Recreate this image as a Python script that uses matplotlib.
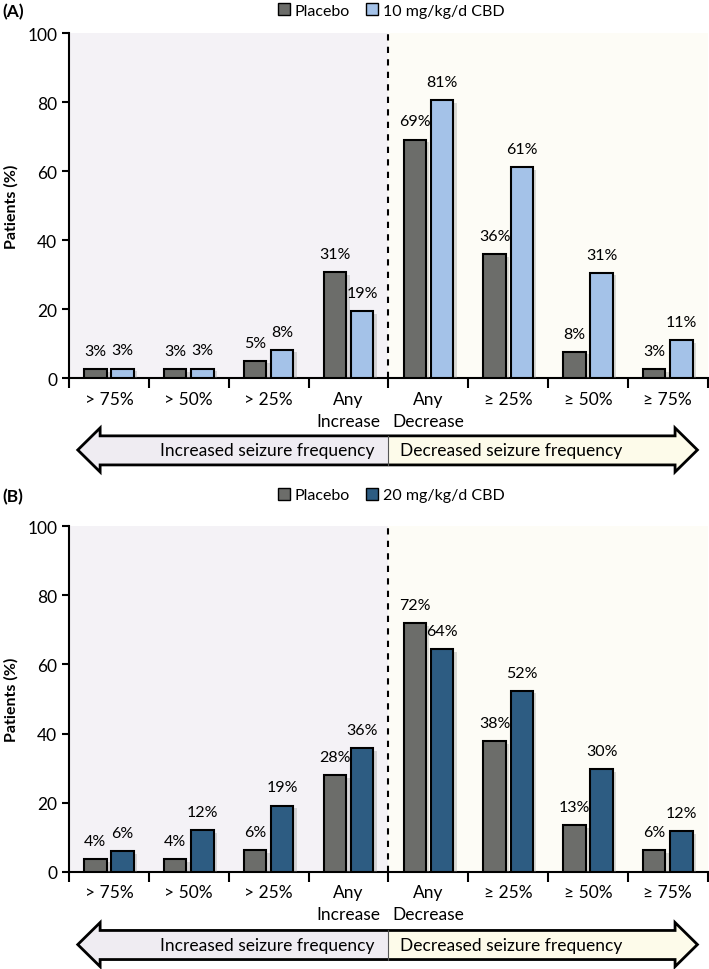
import matplotlib
matplotlib.use('Agg')
import matplotlib.pyplot as plt
import matplotlib.patheffects as pe
from matplotlib.patches import Patch, Polygon
import numpy as np

plt.rcParams['font.family'] = ['Lato', 'DejaVu Sans']

categories = ['> 75%', '> 50%', '> 25%', 'Any\nIncrease',
              'Any\nDecrease', '≥ 25%', '≥ 50%', '≥ 75%']

# panel A
placebo_a = [2.6, 2.6, 5.1, 30.8, 69.2, 35.9, 7.7, 2.6]
cbd10 = [2.8, 2.8, 8.3, 19.4, 80.6, 61.1, 30.6, 11.1]
placebo_a_labels = [3, 3, 5, 31, 69, 36, 8, 3]
cbd10_labels = [3, 3, 8, 19, 81, 61, 31, 11]

# panel B
placebo_b = [3.7, 3.7, 6.3, 28.1, 72.0, 37.9, 13.5, 6.3]
cbd20 = [6.0, 12.0, 19.2, 35.8, 64.4, 52.4, 29.8, 11.9]
placebo_b_labels = [4, 4, 6, 28, 72, 38, 13, 6]
cbd20_labels = [6, 12, 19, 36, 64, 52, 30, 12]

placebo_color = '#6c6d6a'
light_blue = '#a4c2e8'
dark_blue = '#2d5c82'

shadow = [pe.SimplePatchShadow(offset=(2.5, -2), shadow_rgbFace='#888888', alpha=0.3), pe.Normal()]


def draw_arrow(ax):
    ax.set_xlim(-0.5, 7.5)
    ax.set_ylim(0, 1)
    ax.axis('off')
    tip_l, base_l, base_r, tip_r = -0.39, -0.11, 7.09, 7.37
    top, bot = 0.82, 0.16
    left = [(tip_l, 0.5), (base_l, 1.0), (base_l, top), (3.5, top),
            (3.5, bot), (base_l, bot), (base_l, 0.0)]
    right = [(3.5, top), (base_r, top), (base_r, 1.0), (tip_r, 0.5),
             (base_r, 0.0), (base_r, bot), (3.5, bot)]
    ax.add_patch(Polygon(left, closed=True, facecolor='#efecf2', edgecolor='none', clip_on=False))
    ax.add_patch(Polygon(right, closed=True, facecolor='#fdfbea', edgecolor='none', clip_on=False))
    outline = [(tip_l, 0.5), (base_l, 1.0), (base_l, top), (base_r, top),
               (base_r, 1.0), (tip_r, 0.5), (base_r, 0.0), (base_r, bot),
               (base_l, bot), (base_l, 0.0)]
    ax.add_patch(Polygon(outline, closed=True, facecolor='none', edgecolor='black',
                         linewidth=2, joinstyle='miter', clip_on=False))
    ax.plot([3.5, 3.5], [bot, top], color='#555555', linewidth=0.8)
    ax.text(3.32, 0.5, 'Increased seizure frequency', ha='right', va='center', fontsize=12.5)
    ax.text(3.64, 0.5, 'Decreased seizure frequency', ha='left', va='center', fontsize=12.5)


def draw_panel(ax, placebo, cbd, pl_labels, cbd_labels, cbd_color, cbd_name, letter, top_y):
    x = np.arange(len(categories))
    w = 0.28
    ax.axvspan(-0.5, 3.5, color='#f4f2f6', zorder=0, linewidth=0)
    ax.axvspan(3.5, 7.5, color='#fdfcf6', zorder=0, linewidth=0)
    ax.axvline(3.5, color='black', linestyle=(0, (3, 3)), linewidth=1.5, zorder=1)

    b1 = ax.bar(x - 0.17, placebo, w, color=placebo_color, edgecolor='black', linewidth=1.5, zorder=3)
    b2 = ax.bar(x + 0.17, cbd, w, color=cbd_color, edgecolor='black', linewidth=1.5, zorder=3)
    for bar in list(b1) + list(b2):
        bar.set_path_effects(shadow)

    for i in range(len(categories)):
        ax.annotate(f'{pl_labels[i]}%', (x[i] - 0.17, placebo[i]), xytext=(0, 8),
                    textcoords='offset points', ha='center', va='bottom', fontsize=11.5)
        ax.annotate(f'{cbd_labels[i]}%', (x[i] + 0.17, cbd[i]), xytext=(0, 8),
                    textcoords='offset points', ha='center', va='bottom', fontsize=11.5)

    ax.set_xlim(-0.5, 7.5)
    ax.set_ylim(0, 100)
    ax.set_yticks([0, 20, 40, 60, 80, 100])
    ax.tick_params(axis='y', labelsize=12.5, length=5, width=1.5, direction='out')
    ax.set_xticks(np.arange(-0.5, 8, 1))
    ax.set_xticklabels([])
    ax.tick_params(axis='x', which='major', length=7, width=1.5, direction='out')
    ax.set_xticks(x, minor=True)
    ax.set_xticklabels(categories, minor=True, fontsize=12.5, linespacing=1.45)
    ax.tick_params(axis='x', which='minor', length=0, pad=9)
    for s in ['top', 'right']:
        ax.spines[s].set_visible(False)
    for s in ['left', 'bottom']:
        ax.spines[s].set_linewidth(1.5)
    ax.set_ylabel('Patients (%)', fontsize=11.5, fontweight='bold', labelpad=6)

    fig.text(0.004, top_y, letter, fontsize=12.5, fontweight='bold', ha='left', va='center')
    handles = [Patch(facecolor=placebo_color, edgecolor='black', label='Placebo'),
               Patch(facecolor=cbd_color, edgecolor='black', label=cbd_name)]
    fig.legend(handles=handles, loc='center', bbox_to_anchor=(0.552, top_y + 0.001), ncol=2,
               frameon=False, fontsize=11.5, handlelength=0.75, handleheight=0.75,
               handletextpad=0.3, columnspacing=1.0)


fig = plt.figure(figsize=(7.09, 9.70), dpi=100)

ax_a = fig.add_axes([0.0973, 0.609, 0.901, 0.3557])
arrow_a = fig.add_axes([0.0973, 0.5124, 0.901, 0.0454])
ax_b = fig.add_axes([0.0973, 0.100, 0.901, 0.3567])
arrow_b = fig.add_axes([0.0973, 0.0025, 0.901, 0.0454])

draw_panel(ax_a, placebo_a, cbd10, placebo_a_labels, cbd10_labels, light_blue,
           '10 mg/kg/d CBD', '(A)', 0.987)
draw_panel(ax_b, placebo_b, cbd20, placebo_b_labels, cbd20_labels, dark_blue,
           '20 mg/kg/d CBD', '(B)', 0.4875)
draw_arrow(arrow_a)
draw_arrow(arrow_b)

fig.savefig('out.png', dpi=100)
